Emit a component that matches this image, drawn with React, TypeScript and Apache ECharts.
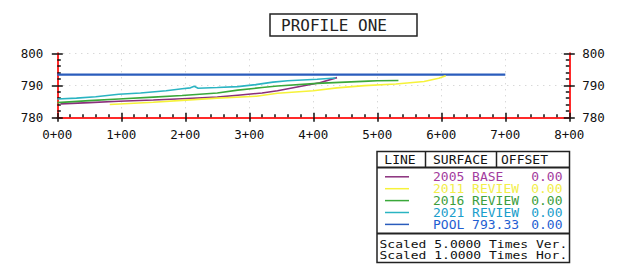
import React, { useEffect, useRef } from "react";
import * as echarts from "echarts";

// Stations in feet (0..800), elevations in feet
const base2005: [number, number][] = [
  [5, 784.2], [50, 784.6], [96, 785.0], [150, 785.4], [195, 785.8], [250, 786.3],
  [282, 786.9], [320, 787.6], [344, 788.3], [381, 789.7], [410, 790.8], [437, 792.4],
];
const review2011: [number, number][] = [
  [82, 784.0], [150, 784.7], [195, 785.3], [250, 786.0], [311, 786.6], [344, 787.5],
  [400, 788.3], [437, 789.2], [480, 789.9], [529, 790.4], [573, 791.2], [596, 792.2], [607, 793.0],
];
const review2016: [number, number][] = [
  [0, 784.6], [50, 785.2], [96, 785.7], [150, 786.3], [195, 786.8], [250, 787.6],
  [282, 788.5], [320, 789.3], [344, 789.8], [406, 790.6], [450, 791.0], [486, 791.3],
  [500, 791.4], [533, 791.5],
];
const review2021: [number, number][] = [
  [0, 785.7], [30, 786.0], [60, 786.4], [96, 787.2], [130, 787.6], [170, 788.3],
  [195, 788.9], [208, 789.2], [214, 789.7], [220, 789.1], [250, 789.3], [282, 789.6],
  [310, 790.2], [337, 791.0], [360, 791.4], [406, 791.9], [435, 792.3],
];
const poolElev = 793.33;
const pool: [number, number][] = [[0, poolElev], [700, poolElev]];

const surfaceNames = ["2005 BASE", "2011 REVIEW", "2016 REVIEW", "2021 REVIEW", "POOL 793.33"];
const offsets = ["0.00", "0.00", "0.00", "0.00", "0.00"];
const lineColors = ["#8a2f7c", "#f6f23a", "#3aa83a", "#2ab4c2", "#2a5cbc"];
const textColors = ["#a33c9e", "#f2ee4a", "#3c9e3c", "#1a9ecb", "#1f5fd2"];
const seriesData = [base2005, review2011, review2016, review2021, pool];
const headers = ["LINE", "SURFACE", "OFFSET"];
const scaleNotes = ["Scaled 5.0000 Times Ver.", "Scaled 1.0000 Times Hor."];
const title = "PROFILE ONE";

const MONO = "'DejaVu Sans Mono', monospace";
const RED = "#ff2a2a";

export default function App() {
  const ref = useRef<HTMLDivElement>(null);
  useEffect(() => {
    if (!ref.current) return;
    const chart = echarts.init(ref.current, null, { renderer: "svg" });

    const labelStyle = { fontFamily: MONO, fontSize: 12.5, color: "#111" };
    const xBase = {
      type: "value" as const,
      min: 0,
      max: 800,
      interval: 100,
      position: "bottom" as const,
      gridIndex: 0,
    };
    const yBase = { type: "value" as const, min: 780, max: 800, interval: 10, gridIndex: 0 };

    const graphic: any[] = [];
    // title box
    graphic.push({
      type: "rect",
      shape: { x: 270, y: 14, width: 147, height: 22 },
      style: { fill: "#fff", stroke: "#222", lineWidth: 1.5 },
    });
    graphic.push({
      type: "text",
      x: 281,
      y: 25.5,
      style: { text: title, font: `16px ${MONO}`, fill: "#222", textAlign: "left", textVerticalAlign: "middle" },
    });
    // legend table
    const L = 377, R = 569.5, T = 151.5, B = 262.5;
    graphic.push({
      type: "rect",
      shape: { x: L, y: T, width: R - L, height: B - T },
      style: { fill: "#fff", stroke: "#222", lineWidth: 1.5 },
    });
    graphic.push({ type: "line", shape: { x1: L, y1: 167.5, x2: R, y2: 167.5 }, style: { stroke: "#222", lineWidth: 2 } });
    graphic.push({ type: "line", shape: { x1: L, y1: 233.5, x2: R, y2: 233.5 }, style: { stroke: "#222", lineWidth: 2 } });
    graphic.push({ type: "line", shape: { x1: 425.5, y1: T, x2: 425.5, y2: 167.5 }, style: { stroke: "#222", lineWidth: 1.5 } });
    graphic.push({ type: "line", shape: { x1: 496.5, y1: T, x2: 496.5, y2: 167.5 }, style: { stroke: "#222", lineWidth: 1.5 } });
    const headerX = [400, 433, 501];
    const headerAlign = ["center", "left", "left"];
    headers.forEach((h, i) => {
      graphic.push({
        type: "text",
        x: headerX[i],
        y: 159.8,
        style: { text: h, font: `13px ${MONO}`, fill: "#111", textAlign: headerAlign[i], textVerticalAlign: "middle" },
      });
    });
    const rowFont = 11.4;
    const rowScale = 13 / rowFont;
    surfaceNames.forEach((name, i) => {
      const y = 177.6 + i * 11.9;
      graphic.push({
        type: "line",
        shape: { x1: 385, y1: y - 0.8, x2: 409, y2: y - 0.8 },
        style: { stroke: lineColors[i], lineWidth: 1.5 },
      });
      graphic.push({
        type: "text",
        x: 433,
        y,
        scaleX: rowScale,
        style: { text: name, font: `${rowFont}px ${MONO}`, fill: textColors[i], textAlign: "left", textVerticalAlign: "middle" },
      });
      graphic.push({
        type: "text",
        x: 562.5,
        y,
        scaleX: rowScale,
        style: { text: offsets[i], font: `${rowFont}px ${MONO}`, fill: textColors[i], textAlign: "right", textVerticalAlign: "middle" },
      });
    });
    const noteFont = 11.2;
    scaleNotes.forEach((s, i) => {
      graphic.push({
        type: "text",
        x: 379.5,
        y: 244.2 + i * 11.5,
        scaleX: 13 / noteFont,
        style: { text: s, font: `${noteFont}px ${MONO}`, fill: "#111", textAlign: "left", textVerticalAlign: "middle" },
      });
    });

    chart.setOption({
      animation: false,
      backgroundColor: "#fff",
      grid: { left: 57.3, right: 52.7, top: 53.3, height: 64, containLabel: false },
      xAxis: [
        {
          ...xBase,
          axisLine: { show: true, onZero: false, lineStyle: { color: RED, width: 2 } },
          axisTick: { show: true, inside: false, length: 4.5, lineStyle: { color: "#111", width: 1.5 } },
          axisLabel: { ...labelStyle, margin: 11, formatter: (v: number) => `${v / 100}+00` },
          splitLine: { show: true, lineStyle: { color: "#c8c8c8", type: [1, 5], width: 1 } },
          minorTick: { show: false },
        },
        {
          ...xBase,
          axisLine: { show: false, onZero: false },
          axisTick: { show: true, inside: true, length: 4.5, lineStyle: { color: "#111", width: 1.5 } },
          minorTick: { show: true, splitNumber: 5, length: 3, lineStyle: { color: "#111", width: 1.5 } },
          axisLabel: { show: false },
          splitLine: { show: false },
        },
      ],
      yAxis: [
        {
          ...yBase,
          position: "left",
          axisLine: { show: true, onZero: false, lineStyle: { color: RED, width: 2 } },
          axisTick: { show: true, inside: false, length: 5.5, lineStyle: { color: "#111", width: 1.5 } },
          axisLabel: { ...labelStyle, margin: 14, padding: [0, 0, 5, 0] },
          splitLine: { show: true, lineStyle: { color: "#c8c8c8", type: [1, 5], width: 1 } },
        },
        {
          ...yBase,
          position: "left",
          axisLine: { show: false, onZero: false },
          axisTick: { show: true, inside: true, length: 5.5, lineStyle: { color: "#111", width: 1.5 } },
          minorTick: { show: true, splitNumber: 5, length: 3.5, lineStyle: { color: "#111", width: 1.5 } },
          axisLabel: { show: false },
          splitLine: { show: false },
        },
        {
          ...yBase,
          position: "right",
          axisLine: { show: true, onZero: false, lineStyle: { color: RED, width: 2 } },
          axisTick: { show: true, inside: false, length: 5.5, lineStyle: { color: "#111", width: 1.5 } },
          axisLabel: { ...labelStyle, margin: 13, padding: [0, 0, 5, 0] },
          splitLine: { show: false },
        },
        {
          ...yBase,
          position: "right",
          axisLine: { show: false, onZero: false },
          axisTick: { show: true, inside: true, length: 5.5, lineStyle: { color: "#111", width: 1.5 } },
          minorTick: { show: true, splitNumber: 5, length: 3.5, lineStyle: { color: "#111", width: 1.5 } },
          axisLabel: { show: false },
          splitLine: { show: false },
        },
      ],
      series: seriesData.map((d, i) => ({
        type: "line",
        name: surfaceNames[i],
        data: d,
        xAxisIndex: 0,
        yAxisIndex: 0,
        showSymbol: false,
        symbol: "none",
        lineStyle: { color: lineColors[i], width: i === 4 ? 2.2 : 1.6 },
        z: 3 + (i === 4 ? 0 : i),
      })),
      graphic,
    });
    return () => chart.dispose();
  }, []);
  return (
    <div
      ref={ref}
      style={{ position: "fixed", left: 0, top: 0, width: 622, height: 275, background: "#fff" }}
    />
  );
}
